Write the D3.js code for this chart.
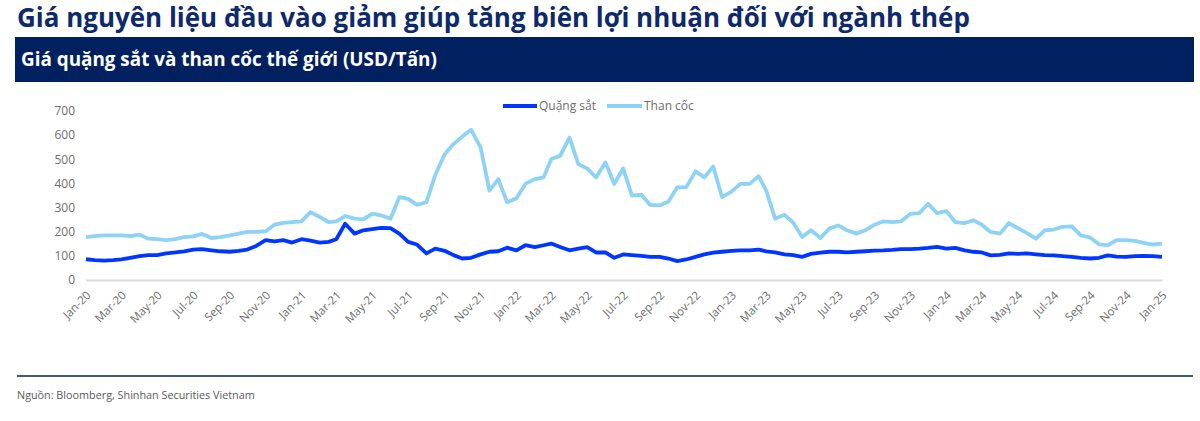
<!DOCTYPE html>
<html>
<head>
<meta charset="utf-8">
<script src="https://cdn.jsdelivr.net/npm/d3@7"></script>
<style>
  html, body { margin: 0; padding: 0; background: #ffffff; }
  svg { display: block; }
  text { font-family: "Open Sans", "Noto Sans", sans-serif; }
</style>
</head>
<body>
<svg id="chart" width="1200" height="421"></svg>
<script>
// ---- Data (semi-monthly readings, Jan-2020 .. Jan-2025) ----
const titleText = "Giá nguyên liệu đầu vào giảm giúp tăng biên lợi nhuận đối với ngành thép";
const subtitleText = "Giá quặng sắt và than cốc thế giới (USD/Tấn)";
const sourceText = "Nguồn: Bloomberg, Shinhan Securities Vietnam";
const seriesNames = ["Quặng sắt", "Than cốc"];
const yTicks = [0, 100, 200, 300, 400, 500, 600, 700];
const startYear = 2020;

const ironOre = [86, 82, 80, 82, 85, 92, 99, 103, 103, 110,
  114, 119, 126, 128, 123, 119, 117, 121, 126, 141,
  165, 160, 165, 155, 169, 163, 155, 158, 169, 233,
  192, 206, 211, 216, 215, 192, 158, 147, 110, 130,
  121, 103, 89, 92, 106, 117, 119, 134, 123, 144,
  136, 144, 151, 137, 123, 130, 136, 114, 114, 92,
  106, 103, 100, 96, 96, 89, 78, 85, 96, 106,
  113, 117, 121, 123, 123, 126, 119, 114, 106, 103,
  96, 108, 113, 117, 117, 114, 117, 119, 122, 123,
  125, 128, 128, 130, 133, 137, 130, 133, 123, 117,
  114, 102, 104, 110, 108, 110, 106, 103, 102, 99,
  96, 92, 89, 92, 102, 97, 96, 99, 100, 99, 96];

const cokingCoal = [178, 182, 185, 185, 185, 182, 188, 171, 169, 165,
  169, 178, 181, 191, 174, 178, 185, 192, 199, 199,
  202, 229, 237, 240, 243, 281, 261, 240, 243, 265,
  254, 251, 275, 268, 254, 343, 336, 311, 322, 435,
  521, 563, 594, 622, 549, 370, 418, 322, 339, 398,
  418, 425, 501, 514, 590, 480, 462, 425, 487, 398,
  462, 350, 353, 311, 309, 325, 384, 384, 450, 425,
  470, 343, 366, 398, 398, 430, 370, 254, 270, 237,
  178, 206, 174, 213, 226, 206, 192, 206, 229, 243,
  240, 243, 274, 277, 316, 277, 285, 240, 236, 247,
  229, 199, 192, 236, 215, 195, 171, 206, 209, 220,
  222, 185, 176, 148, 144, 165, 165, 162, 154, 147, 151];

// dates: 1st and 16th of each month
const dates = ironOre.map((_, i) => new Date(startYear + Math.floor(i / 24), Math.floor((i % 24) / 2), i % 2 ? 16 : 1));

// ---- Layout ----
const svg = d3.select("#chart");
const colors = { iron: "#0036ff", coal: "#8ed3f6", navy: "#002060", title: "#0f2a6b", grey: "#6d6d6d" };

function fitText(sel, target) {
  const w = sel.node().getComputedTextLength();
  const fs = parseFloat(sel.attr("font-size"));
  sel.attr("font-size", (fs * target / w).toFixed(2));
}

// Title
const t = svg.append("text").attr("x", 17).attr("y", 27)
  .attr("font-size", 24).attr("font-weight", 700).attr("fill", colors.title).text(titleText);
fitText(t, 953);

// Subtitle bar
svg.append("rect").attr("x", 15).attr("y", 37).attr("width", 1179).attr("height", 45).attr("fill", colors.navy);
const st = svg.append("text").attr("x", 21).attr("y", 66)
  .attr("font-size", 18).attr("font-weight", 700).attr("fill", "#ffffff").text(subtitleText);
fitText(st, 416);

// Scales
const x = d3.scaleTime().domain([new Date(2020, 0, 1), new Date(2025, 0, 1)]).range([86, 1162]);
const y = d3.scaleLinear().domain([0, 700]).range([280, 111]);

// Y axis labels
const yAxis = svg.append("g").attr("transform", "translate(75,0)")
  .call(d3.axisLeft(y).tickValues(yTicks).tickSize(0).tickPadding(0));
yAxis.select(".domain").remove();
yAxis.selectAll("text").attr("font-size", 12).attr("fill", colors.grey)
  .attr("font-family", "'Open Sans', 'Noto Sans', sans-serif");

// X axis
const fmt = d3.timeFormat("%b-%y");
const xAxis = svg.append("g").attr("transform", "translate(0,280)")
  .call(d3.axisBottom(x).ticks(d3.timeMonth.every(2)).tickFormat(fmt).tickSize(0).tickPadding(0));
xAxis.select(".domain").attr("stroke", "#d9d9d9").attr("stroke-width", 2);
xAxis.selectAll(".tick text")
  .attr("font-size", 11.5).attr("fill", colors.grey)
  .attr("font-family", "'Open Sans', 'Noto Sans', sans-serif")
  .attr("text-anchor", "end")
  .attr("dy", 0).attr("y", 0)
  .attr("transform", "translate(5,16) rotate(-45)");

// Lines
const line = d3.line().x((d, i) => x(dates[i])).y(d => y(d)).curve(d3.curveLinear);
svg.append("path").datum(ironOre).attr("d", line)
  .attr("fill", "none").attr("stroke", colors.iron).attr("stroke-width", 3.8).attr("stroke-linejoin", "round");
svg.append("path").datum(cokingCoal).attr("d", line)
  .attr("fill", "none").attr("stroke", colors.coal).attr("stroke-width", 3.8).attr("stroke-linejoin", "round");

// Legend
const legend = [{ x0: 503, x1: 537, tx: 539, c: colors.iron, n: seriesNames[0] },
                { x0: 607, x1: 642, tx: 644, c: colors.coal, n: seriesNames[1] }];
legend.forEach(l => {
  svg.append("line").attr("x1", l.x0).attr("x2", l.x1).attr("y1", 106).attr("y2", 106)
    .attr("stroke", l.c).attr("stroke-width", 4);
  svg.append("text").attr("x", l.tx).attr("y", 110).attr("font-size", 12).attr("fill", colors.grey).text(l.n);
});

// Footer
svg.append("line").attr("x1", 17).attr("x2", 1193).attr("y1", 376).attr("y2", 376)
  .attr("stroke", colors.navy).attr("stroke-width", 1.5);
const src = svg.append("text").attr("x", 17).attr("y", 399).attr("font-size", 12)
  .attr("font-family", "'Liberation Sans Narrow', 'Open Sans', sans-serif")
  .attr("fill", "#595959").text(sourceText);
fitText(src, 238);
</script>
</body>
</html>
